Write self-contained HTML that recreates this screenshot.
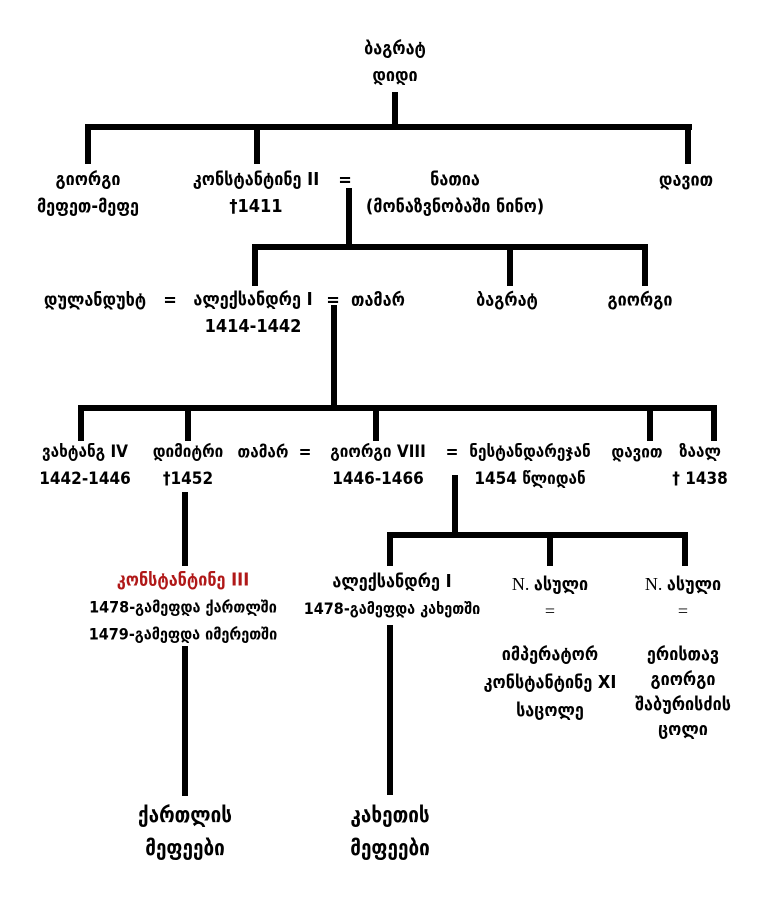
<!DOCTYPE html>
<html><head><meta charset="utf-8"><style>
body{margin:0;background:#fff}
#c{position:relative;width:768px;height:899px;overflow:hidden;font-family:"DejaVu Sans Condensed","DejaVu Sans","Liberation Sans",sans-serif;font-weight:bold;color:#000;font-size:18px}
.t{position:absolute;transform:translate(-50%,-50%);white-space:nowrap;text-align:center;line-height:27px}
.h{position:absolute;background:#000;height:6px}
.v{position:absolute;background:#000;width:6px}
.r4{font-size:17px}
.s{font-size:16px}
</style></head><body><div id="c">
<div class="t" style="left:395px;top:62px">ბაგრატ<br>დიდი</div>
<div class="v" style="left:392px;top:92px;height:36px"></div>
<div class="h" style="left:85px;top:124px;width:607px"></div>
<div class="v" style="left:85px;top:124px;height:40px"></div>
<div class="v" style="left:254px;top:124px;height:40px"></div>
<div class="v" style="left:685px;top:124px;height:40px"></div>

<div class="t" style="left:88px;top:193px">გიორგი<br>მეფეთ-მეფე</div>
<div class="t" style="left:256px;top:193px">კონსტანტინე II<br>†1411</div>
<div class="t" style="left:345px;top:180px">=</div>
<div class="t" style="left:455px;top:193px">ნათია<br>(მონაზვნობაში ნინო)</div>
<div class="t" style="left:686px;top:180px">დავით</div>
<div class="v" style="left:346px;top:188px;height:62px"></div>
<div class="h" style="left:252px;top:244px;width:396px"></div>
<div class="v" style="left:252px;top:244px;height:42px"></div>
<div class="v" style="left:507px;top:244px;height:42px"></div>
<div class="v" style="left:642px;top:244px;height:42px"></div>

<div class="t" style="left:95px;top:300px">დულანდუხტ</div>
<div class="t" style="left:170px;top:300px">=</div>
<div class="t" style="left:253px;top:313px">ალექსანდრე I<br>1414-1442</div>
<div class="t" style="left:333px;top:300px">=</div>
<div class="t" style="left:378px;top:300px">თამარ</div>
<div class="t" style="left:507px;top:300px">ბაგრატ</div>
<div class="t" style="left:640px;top:300px">გიორგი</div>
<div class="v" style="left:331px;top:305px;height:106px"></div>
<div class="h" style="left:78px;top:405px;width:639px"></div>
<div class="v" style="left:78px;top:405px;height:36px"></div>
<div class="v" style="left:185px;top:405px;height:36px"></div>
<div class="v" style="left:373px;top:405px;height:36px"></div>
<div class="v" style="left:647px;top:405px;height:36px"></div>
<div class="v" style="left:711px;top:405px;height:36px"></div>

<div class="t r4" style="left:85px;top:466px">ვახტანგ IV<br>1442-1446</div>
<div class="t r4" style="left:188px;top:466px">დიმიტრი<br>†1452</div>
<div class="t r4" style="left:263px;top:453px">თამარ</div>
<div class="t r4" style="left:305px;top:453px">=</div>
<div class="t r4" style="left:378px;top:466px">გიორგი VIII<br>1446-1466</div>
<div class="t r4" style="left:452px;top:453px">=</div>
<div class="t r4" style="left:530px;top:466px">ნესტანდარეჯან<br>1454 წლიდან</div>
<div class="t r4" style="left:637px;top:453px">დავით</div>
<div class="t r4" style="left:700px;top:466px">ზაალ<br>† 1438</div>
<div class="v" style="left:182px;top:492px;height:74px"></div>
<div class="v" style="left:452px;top:475px;height:62px"></div>
<div class="h" style="left:387px;top:532px;width:301px"></div>
<div class="v" style="left:387px;top:532px;height:34px"></div>
<div class="v" style="left:547px;top:532px;height:34px"></div>
<div class="v" style="left:682px;top:532px;height:34px"></div>

<div class="t" style="left:183px;top:607px"><span style="color:#b01818">კონსტანტინე III</span><br><span class="s">1478-გამეფდა ქართლში<br>1479-გამეფდა იმერეთში</span></div>
<div class="t" style="left:392px;top:595px">ალექსანდრე I<br><span class="s">1478-გამეფდა კახეთში</span></div>
<div class="t" style="left:550px;top:598px;font-family:'Liberation Serif','DejaVu Serif',serif;font-weight:normal">N. <span style="font-family:'DejaVu Sans Condensed','DejaVu Sans',sans-serif;font-weight:bold">ასული</span><br>=</div>
<div class="t" style="left:683px;top:598px;font-family:'Liberation Serif','DejaVu Serif',serif;font-weight:normal">N. <span style="font-family:'DejaVu Sans Condensed','DejaVu Sans',sans-serif;font-weight:bold">ასული</span><br>=</div>
<div class="t" style="left:550px;top:683px;line-height:28px">იმპერატორ<br>კონსტანტინე XI<br>საცოლე</div>
<div class="t" style="left:683px;top:692px;line-height:25px">ერისთავ<br>გიორგი<br>შაბურისძის<br>ცოლი</div>
<div class="v" style="left:182px;top:646px;height:150px"></div>
<div class="v" style="left:387px;top:625px;height:170px"></div>

<div class="t" style="left:185px;top:832px;line-height:33px;font-size:21px">ქართლის<br>მეფეები</div>
<div class="t" style="left:390px;top:832px;line-height:33px;font-size:21px">კახეთის<br>მეფეები</div>
</div></body></html>
